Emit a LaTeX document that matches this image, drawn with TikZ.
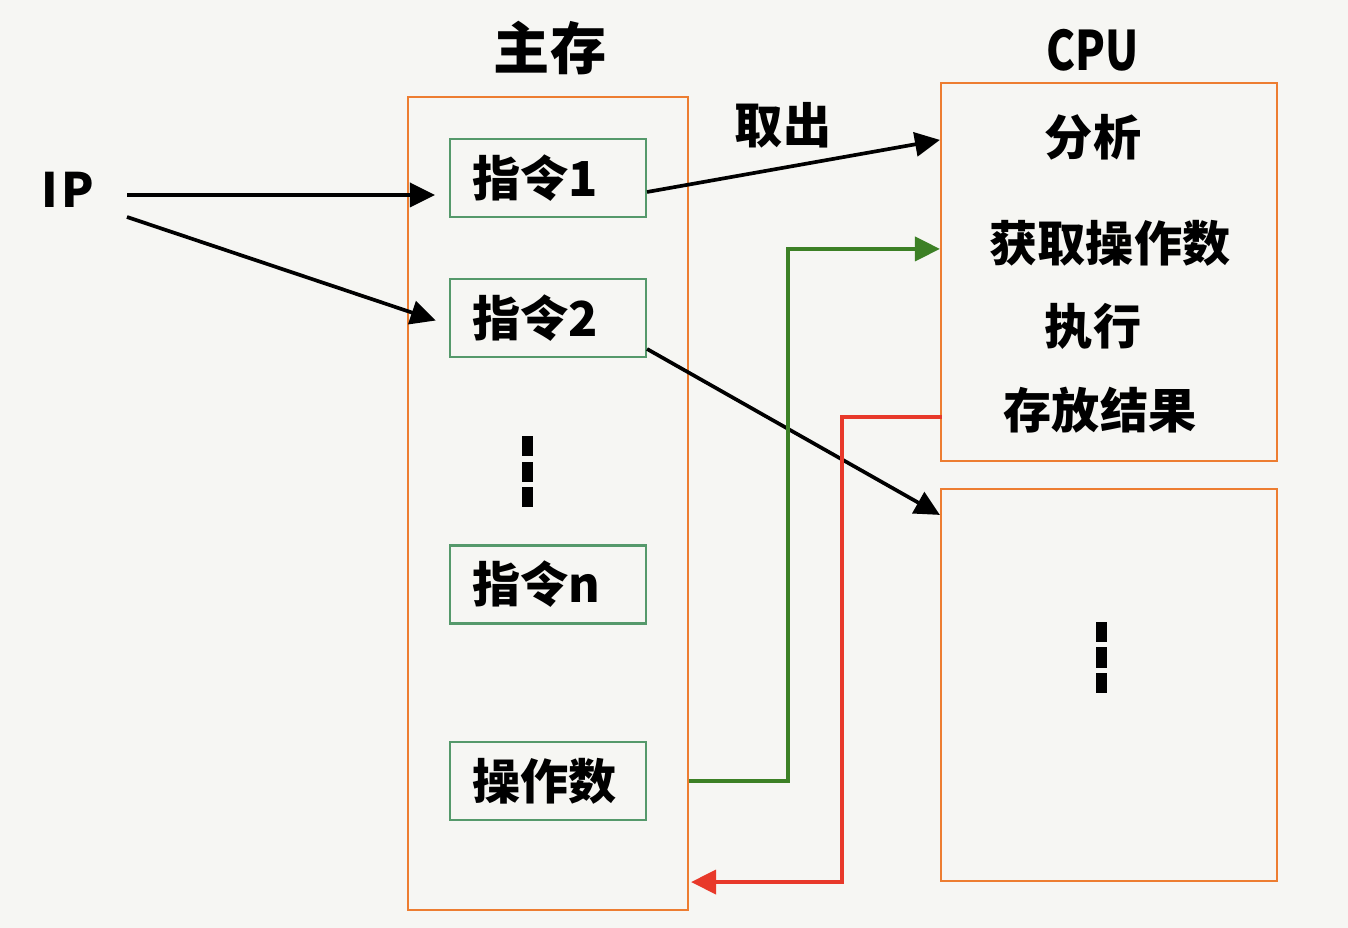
\documentclass[tikz,border=0pt]{standalone}
\usepackage{fontspec}
\setmainfont{Noto Sans CJK SC}
\usetikzlibrary{arrows.meta,calc}
\definecolor{boxorange}{HTML}{ED7D31}
\definecolor{insgreen}{HTML}{55996B}
\definecolor{fetchgreen}{HTML}{3C8025}
\definecolor{storered}{HTML}{E8392A}
\definecolor{bgpaper}{HTML}{F6F6F3}
\newcommand{\bigtxt}{\fontsize{13.7pt}{16pt}\selectfont\bfseries}

\begin{document}
\begin{tikzpicture}[thick,
		membox/.style={draw=boxorange, line width=0.6pt, minimum width=2.80cm, minimum height=8.13cm, inner sep=0pt},
		cpubox/.style={draw=boxorange, line width=0.6pt, minimum width=3.36cm, inner sep=0pt},
		insbox/.style={draw=insgreen, line width=0.6pt, minimum height=0.78cm, text width=1.52cm, inner xsep=0.22cm, align=left, font=\bigtxt},
		lbl/.style={font=\bigtxt, inner sep=0pt},
		arr/.style={line width=1.05pt, -{Triangle[length=0.25cm, width=0.24cm]}},
		vdots/.style={fill=black}]
		\useasboundingbox[fill=bgpaper] (0,0) rectangle (13.48,-9.28);
		%=========== main memory, from top to bottom===========================
		\node[lbl] (memtitle) at (5.50,-0.48) {\fontsize{16pt}{19pt}\selectfont 主存};
		\node[membox] (mem) at (5.48,-5.035) {};
		\node[insbox] (ins1) at (5.48,-1.78) {指令1};
		\node[insbox] (ins2) at (5.48,-3.18) {指令2};
		\node[insbox] (insn) at (5.48,-5.845) {指令n};
		\node[insbox] (opnd) at (5.48,-7.81) {操作数};
		\foreach \y in {-4.36,-4.62,-4.87}
			\fill[vdots] (5.215,\y) rectangle ++(0.11,-0.205);
		%=========== CPU, from top to bottom===========================
		\node[lbl] (cputitle) at (10.93,-0.50) {\scalebox{0.8}[1]{\fontsize{15.5pt}{18pt}\selectfont CPU}};
		\node[cpubox, minimum height=3.78cm] (cpu) at (11.09,-2.72) {};
		\node[lbl] (analyse) at (10.93,-1.37) {分析};
		\node[lbl] (fetchop) at (11.10,-2.43) {获取操作数};
		\node[lbl] (execute) at (10.93,-3.26) {执行};
		\node[lbl] (store) at (11.00,-4.10) {存放结果};
		\node[cpubox, minimum height=3.92cm] (next) at (11.09,-6.85) {};
		\foreach \y in {-6.22,-6.475,-6.73}
			\fill[vdots] (10.955,\y) rectangle ++(0.11,-0.205);
		%=========== IP and the arrows===========================
		\node[lbl] (ip) at (0.68,-1.90) {\fontsize{13.5pt}{16pt}\selectfont I\kern0.08em P};
		\coordinate (ipa) at (1.27,-1.95);
		\coordinate (ipb) at (1.27,-2.17);
		\draw[arr, shorten >=0.14cm] (ipa) -- (ipa -| ins1.west);
		\draw[arr, shorten >=0.14cm] (ipb) -- ([yshift=-0.07cm]ins2.west);
		\draw[arr] ([yshift=-0.14cm]ins1.east) -- ($(cpu.north west)+(0,-0.58)$);
		\node[lbl] (fetch) at (7.83,-1.25) {取出};
		\draw[arr] ([yshift=-0.31cm]ins2.east) -- ($(next.north west)+(0,-0.27)$);
		\draw[arr, fetchgreen, line width=1.1pt] (opnd.east -| mem.east) -- ++(0.99,0) |- ($(cpu.north west)+(0,-1.67)$);
		\draw[arr, storered, line width=1.1pt] ($(cpu.north west)+(0.02,-3.35)$) -- ++(-1.00,0) |- ($(mem.south east)+(0.02,0.29)$);
	\end{tikzpicture}
\end{document}
